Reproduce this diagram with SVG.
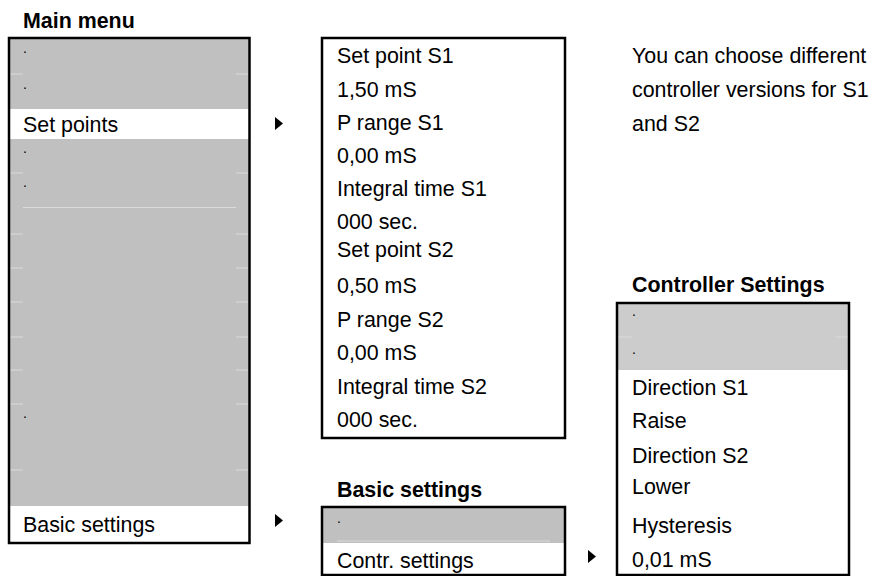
<svg xmlns="http://www.w3.org/2000/svg" width="877" height="576" viewBox="0 0 877 576">
<style>
text{font-family:"Liberation Sans",Arial,sans-serif;font-size:21.4px;fill:#000}
.t{font-weight:bold}
.d{font-size:14px}
.box{fill:none;stroke:#000;stroke-width:2.5}
.g{fill:#c0c0c0}
.g2{fill:#cccccc}
.ln{stroke:#dadada;stroke-width:1.2;fill:none}
.arr{fill:#000}
</style>
<rect width="877" height="576" fill="#fff"/>
<g id="main-menu">
<text class="t" x="23" y="28">Main menu</text>
<rect class="g" x="9" y="38" width="240" height="71"/>
<rect class="g" x="9" y="139" width="240" height="367"/>
<path class="ln" d="M10 74H23M236 74H248M10 173H23M236 173H248M23 207.5H236M10 234H23M236 234H248M10 268H23M236 268H248M10 302H23M236 302H248M10 337H23M236 337H248M10 370H23M236 370H248M10 404H23M236 404H248M10 470H23M236 470H248"/>
<text class="d" x="23" y="53">.</text>
<text class="d" x="23" y="89">.</text>
<text x="23" y="132">Set points</text>
<text class="d" x="23" y="153">.</text>
<text class="d" x="23" y="187">.</text>
<text class="d" x="23" y="418">.</text>
<text x="23" y="532">Basic settings</text>
<rect class="box" x="9" y="38" width="240.5" height="505"/>
</g>
<g id="set-points-menu">
<text x="337" y="63">Set point S1</text>
<text x="337" y="97">1,50 mS</text>
<text x="337" y="130">P range S1</text>
<text x="337" y="163">0,00 mS</text>
<text x="337" y="196">Integral time S1</text>
<text x="337" y="229">000 sec.</text>
<text x="337" y="257">Set point S2</text>
<text x="337" y="293">0,50 mS</text>
<text x="337" y="327">P range S2</text>
<text x="337" y="360">0,00 mS</text>
<text x="337" y="394">Integral time S2</text>
<text x="337" y="427">000 sec.</text>
<rect class="box" x="322" y="38" width="243" height="400"/>
</g>
<g id="note">
<text x="632" y="63">You can choose different</text>
<text x="632" y="97">controller versions for S1</text>
<text x="632" y="131">and S2</text>
</g>
<g id="basic-settings-menu">
<text class="t" x="337" y="497">Basic settings</text>
<rect class="g" x="322" y="507" width="243" height="36"/>
<path class="ln" d="M337 541H550"/>
<text class="d" x="337" y="523">.</text>
<text x="337" y="568">Contr. settings</text>
<rect class="box" x="322" y="507" width="243" height="68"/>
</g>
<g id="controller-settings-menu">
<text class="t" x="632" y="292">Controller Settings</text>
<rect class="g2" x="617" y="303" width="232" height="67"/>
<path class="ln" d="M618 337H632M836 337H848"/>
<text class="d" x="632" y="316">.</text>
<text class="d" x="632" y="354">.</text>
<text x="632" y="395">Direction S1</text>
<text x="632" y="428">Raise</text>
<text x="632" y="463">Direction S2</text>
<text x="632" y="494">Lower</text>
<text x="632" y="533">Hysteresis</text>
<text x="632" y="567">0,01 mS</text>
<rect class="box" x="617" y="303" width="232" height="272"/>
</g>
<g id="connectors">
<path class="arr" d="M275 117L283 123.5L275 130Z"/>
<path class="arr" d="M275 514L283 520.5L275 527Z"/>
<path class="arr" d="M588 550L596 556.5L588 563Z"/>
</g>
</svg>
